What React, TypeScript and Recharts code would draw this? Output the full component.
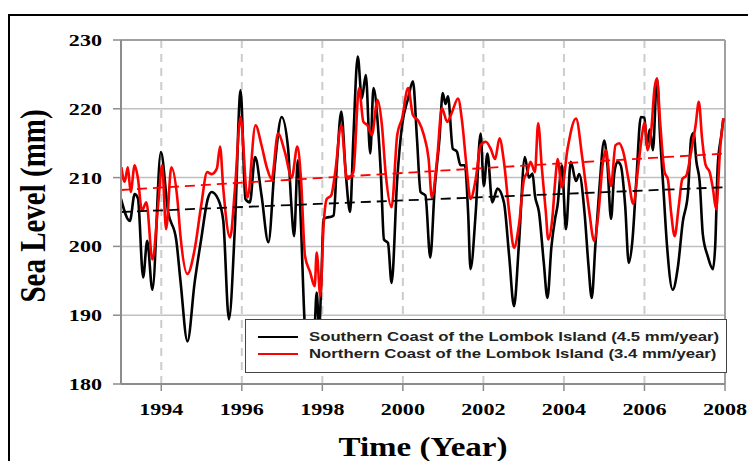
import { LineChart, Line, XAxis, YAxis, CartesianGrid, ReferenceLine, Legend, Label } from 'recharts'

// monthly-ish sea level readings (mm), Lombok Island
const southYears = [
	1993.0, 1993.22, 1993.34, 1993.42, 1993.55, 1993.65, 1993.78, 1993.99, 1994.17, 1994.37,
	1994.48, 1994.65, 1994.83, 1994.99, 1995.16, 1995.25, 1995.41, 1995.54, 1995.68, 1995.83,
	1995.97, 1996.09, 1996.2, 1996.33, 1996.49, 1996.66, 1996.82, 1996.99, 1997.15, 1997.22,
	1997.3, 1997.39, 1997.47, 1997.56, 1997.63, 1997.72, 1997.8, 1997.86, 1997.92, 1997.98,
	1998.03, 1998.11, 1998.22, 1998.28, 1998.36, 1998.47, 1998.58, 1998.69, 1998.77, 1998.88,
	1998.98, 1999.08, 1999.19, 1999.27, 1999.38, 1999.46, 1999.53, 1999.63, 1999.72, 1999.86,
	1999.98, 2000.13, 2000.25, 2000.35, 2000.44, 2000.56, 2000.68, 2000.79, 2000.91, 2000.99,
	2001.06, 2001.12, 2001.24, 2001.34, 2001.43, 2001.54, 2001.62, 2001.68, 2001.81, 2001.93,
	2002.01, 2002.1, 2002.22, 2002.35, 2002.51, 2002.64, 2002.76, 2002.88, 2003.03, 2003.13,
	2003.22, 2003.28, 2003.38, 2003.5, 2003.59, 2003.69, 2003.78, 2003.84, 2003.95, 2004.05,
	2004.17, 2004.3, 2004.38, 2004.51, 2004.61, 2004.69, 2004.78, 2004.88, 2005.0, 2005.08,
	2005.17, 2005.25, 2005.33, 2005.41, 2005.52, 2005.61, 2005.7, 2005.8, 2005.91, 2006.0,
	2006.06, 2006.13, 2006.21, 2006.31, 2006.39, 2006.47, 2006.56, 2006.7, 2006.83, 2006.95,
	2007.08, 2007.16, 2007.22, 2007.29, 2007.37, 2007.45, 2007.57, 2007.7, 2007.76, 2007.82,
	2007.91, 2007.96,
]
const southLevels = [
	206.9, 203.7, 207.6, 207.0, 195.5, 200.8, 193.7, 213.7, 205.0, 201.0,
	194.8, 186.2, 194.8, 201.0, 207.0, 207.9, 206.9, 203.7, 189.4, 203.0,
	222.7, 206.9, 206.4, 213.0, 207.4, 200.6, 211.8, 218.8, 214.2, 207.0,
	201.5, 212.5, 203.0, 189.0, 185.0, 184.0, 187.0, 193.3, 188.0, 196.0,
	204.0, 204.2, 204.3, 204.5, 211.8, 219.6, 210.8, 205.0, 215.7, 227.6,
	221.5, 224.9, 213.5, 223.0, 217.6, 209.8, 201.0, 200.5, 194.7, 209.8,
	217.6, 221.5, 224.0, 215.7, 207.9, 207.4, 198.4, 208.4, 215.7, 222.3,
	220.7, 221.8, 214.2, 213.8, 211.8, 211.8, 205.0, 196.7, 205.0, 216.4,
	208.8, 213.5, 206.4, 208.4, 206.4, 198.6, 191.3, 200.1, 213.0, 210.0,
	210.6, 207.4, 205.0, 197.6, 192.5, 200.0, 204.0, 205.9, 211.8, 202.5,
	212.3, 209.5, 210.5, 205.0, 197.2, 192.5, 200.1, 208.4, 215.4, 211.8,
	204.0, 210.6, 212.3, 211.8, 206.0, 197.6, 200.8, 209.8, 218.8, 218.7,
	214.7, 217.0, 214.0, 224.4, 215.7, 208.4, 200.1, 193.7, 197.0, 203.5,
	207.7, 215.7, 216.5, 212.3, 209.5, 201.7, 198.6, 196.7, 200.5, 211.8,
	216.2, 218.6,
]

const northYears = [
	1993.01, 1993.09, 1993.17, 1993.24, 1993.34, 1993.42, 1993.52, 1993.63, 1993.78, 1993.92,
	1994.02, 1994.12, 1994.25, 1994.4, 1994.48, 1994.65, 1994.83, 1994.99, 1995.14, 1995.25,
	1995.38, 1995.46, 1995.54, 1995.71, 1995.83, 1995.97, 1996.14, 1996.34, 1996.49, 1996.62,
	1996.74, 1996.9, 1997.07, 1997.24, 1997.38, 1997.47, 1997.57, 1997.7, 1997.81, 1997.86,
	1997.95, 1998.03, 1998.11, 1998.22, 1998.32, 1998.47, 1998.61, 1998.77, 1998.91, 1999.02,
	1999.12, 1999.23, 1999.37, 1999.48, 1999.57, 1999.72, 1999.86, 1999.98, 2000.13, 2000.25,
	2000.39, 2000.52, 2000.64, 2000.72, 2000.85, 2000.97, 2001.1, 2001.22, 2001.37, 2001.47,
	2001.57, 2001.68, 2001.81, 2001.93, 2002.06, 2002.18, 2002.29, 2002.4, 2002.51, 2002.64,
	2002.76, 2002.88, 2003.01, 2003.09, 2003.17, 2003.28, 2003.36, 2003.45, 2003.55, 2003.61,
	2003.71, 2003.79, 2003.84, 2003.95, 2004.09, 2004.3, 2004.46, 2004.63, 2004.75, 2004.86,
	2004.96, 2005.04, 2005.17, 2005.28, 2005.37, 2005.47, 2005.61, 2005.72, 2005.85, 2005.94,
	2006.0, 2006.08, 2006.17, 2006.25, 2006.31, 2006.39, 2006.5, 2006.58, 2006.66, 2006.75,
	2006.85, 2006.94, 2007.04, 2007.16, 2007.27, 2007.35, 2007.43, 2007.52, 2007.62, 2007.7,
	2007.78, 2007.88, 2007.96,
]
const northLevels = [
	211.5, 209.4, 211.5, 207.9, 211.8, 209.9, 205.2, 206.4, 198.1, 205.9,
	211.8, 202.5, 211.5, 206.9, 201.3, 196.0, 199.6, 205.9, 210.8, 210.5,
	211.3, 214.5, 208.4, 201.3, 208.4, 218.8, 207.1, 217.6, 214.7, 211.5,
	209.8, 216.4, 213.7, 210.0, 214.5, 209.8, 198.6, 196.2, 194.2, 199.1,
	192.8, 203.0, 206.9, 207.4, 210.8, 217.6, 209.8, 210.8, 223.0, 218.1,
	217.6, 216.2, 221.3, 217.6, 210.8, 205.7, 216.2, 218.6, 223.0, 219.1,
	218.2, 216.2, 212.7, 207.1, 212.7, 220.1, 218.1, 219.5, 221.5, 218.2,
	212.3, 206.9, 209.8, 214.7, 215.2, 214.2, 212.7, 215.7, 212.3, 205.0,
	199.8, 203.0, 209.8, 210.8, 212.3, 210.8, 217.9, 211.5, 205.0, 201.0,
	204.0, 210.0, 212.7, 208.6, 214.2, 218.6, 212.7, 205.0, 200.8, 205.0,
	211.8, 214.0, 208.8, 214.7, 215.0, 213.8, 209.5, 206.2, 211.8, 216.2,
	218.0, 214.0, 217.0, 223.0, 224.4, 218.0, 210.8, 209.8, 205.0, 201.5,
	205.8, 209.8, 210.3, 213.8, 217.6, 221.0, 215.7, 211.8, 210.8, 208.4,
	205.4, 214.2, 218.6,
]

// linear trends
const trendYears = [1993, 2008]
const southTrend = [205.0, 208.6]
const northTrend = [208.2, 213.5]

const yearTicks = [1994, 1996, 1998, 2000, 2002, 2004, 2006, 2008]
const levelTicks = [180, 190, 200, 210, 220, 230]

const seriesNames = [
	'Southern Coast of the Lombok Island (4.5 mm/year)',
	'Northern Coast of the Lombok Island (3.4 mm/year)',
]
const seriesColors = ['#000000', '#ff0000']

const southData = southYears.map((year, i) => ({ year, level: southLevels[i] }))
const northData = northYears.map((year, i) => ({ year, level: northLevels[i] }))
const southTrendData = trendYears.map((year, i) => ({ year, level: southTrend[i] }))
const northTrendData = trendYears.map((year, i) => ({ year, level: northTrend[i] }))

const serif = "'Liberation Serif', 'Times New Roman', serif"

const YearTick = ({ x, y, payload }: any) => (
	<g transform={`translate(${x},${y})`}>
		<text transform="scale(1.3,1)" textAnchor="middle" dy={24} fontFamily={serif} fontWeight="bold" fontSize={17} fill="#000">
			{payload.value}
		</text>
	</g>
)

const LevelTick = ({ x, y, payload }: any) => (
	<g transform={`translate(${x},${y})`}>
		<text transform="scale(1.3,1)" textAnchor="end" dy={6} fontFamily={serif} fontWeight="bold" fontSize={17} fill="#000">
			{payload.value}
		</text>
	</g>
)

const renderLegend = () => (
	<div
		style={{
			width: 482,
			height: 54,
			boxSizing: 'border-box',
			border: '1px solid #444',
			background: '#fff',
			padding: '8px 0 0 12px',
		}}
	>
		{seriesNames.map((name, i) => (
			<div key={name} style={{ display: 'flex', alignItems: 'center', height: 17 }}>
				<div style={{ width: 40, height: 0, borderTop: `2.5px solid ${seriesColors[i]}`, marginRight: 11, flexShrink: 0 }} />
				<span
					style={{
						fontFamily: "'Liberation Sans', Arial, sans-serif",
						fontWeight: 'bold',
						fontSize: 13.5,
						color: '#222',
						whiteSpace: 'nowrap',
						display: 'inline-block',
						transform: 'scaleX(1.24)',
						transformOrigin: 'left center',
					}}
				>
					{name}
				</span>
			</div>
		))}
	</div>
)

const App = () => {
	return (
		<div style={{ position: 'absolute', left: 0, top: 0, width: 748, height: 461, background: '#fff', overflow: 'hidden' }}>
			<div
				style={{
					position: 'absolute',
					left: 8,
					top: 14,
					width: 760,
					height: 470,
					borderTop: '2px solid #000',
					borderLeft: '2px solid #000',
				}}
			/>
			<div style={{ position: 'absolute', left: 0, top: 0 }}>
				<LineChart width={748} height={461} margin={{ top: 40, right: 23, bottom: 37, left: 21 }}>
					<CartesianGrid vertical={false} stroke="#c0c0c0" strokeWidth={1.5} />
					<CartesianGrid horizontal={false} stroke="#cccccc" strokeWidth={2} strokeDasharray="8 6" />
					<XAxis
						type="number"
						dataKey="year"
						domain={[1993, 2008]}
						ticks={yearTicks}
						allowDataOverflow
						height={40}
						tickSize={7}
						tickMargin={0}
						axisLine={{ stroke: '#8c8c8c', strokeWidth: 2 }}
						tickLine={{ stroke: '#8c8c8c', strokeWidth: 1.5 }}
						tick={<YearTick />}
					>
						<Label
							content={() => (
								<text
									transform="translate(423,456) scale(1.18,1)"
									textAnchor="middle"
									fontFamily={serif}
									fontWeight="bold"
									fontSize={28}
									fill="#000"
								>
									Time (Year)
								</text>
							)}
						/>
					</XAxis>
					<YAxis
						type="number"
						domain={[180, 230]}
						ticks={levelTicks}
						allowDataOverflow
						width={100}
						tickSize={8}
						tickMargin={11}
						axisLine={{ stroke: '#8c8c8c', strokeWidth: 2 }}
						tickLine={{ stroke: '#8c8c8c', strokeWidth: 1.5 }}
						tick={<LevelTick />}
					>
						<Label
							content={() => (
								<text
									transform="translate(45,206) rotate(-90) scale(1,1.2)"
									textAnchor="middle"
									fontFamily={serif}
									fontWeight="bold"
									fontSize={29}
									fill="#000"
								>
									Sea Level (mm)
								</text>
							)}
						/>
					</YAxis>
					<ReferenceLine y={230} stroke="#a0a0a0" strokeWidth={2} />
					<ReferenceLine x={2008} stroke="#a0a0a0" strokeWidth={2} />
					<Line
						data={southData}
						dataKey="level"
						type="monotone"
						stroke={seriesColors[0]}
						strokeWidth={2.6}
						dot={false}
						activeDot={false}
						isAnimationActive={false}
					/>
					<Line
						data={northData}
						dataKey="level"
						type="monotone"
						stroke={seriesColors[1]}
						strokeWidth={2.6}
						dot={false}
						activeDot={false}
						isAnimationActive={false}
					/>
					<Line
						data={southTrendData}
						dataKey="level"
						type="linear"
						stroke="#000"
						strokeWidth={1.8}
						strokeDasharray="10 6"
						dot={false}
						activeDot={false}
						isAnimationActive={false}
					/>
					<Line
						data={northTrendData}
						dataKey="level"
						type="linear"
						stroke="#ff0000"
						strokeWidth={1.8}
						strokeDasharray="10 6"
						dot={false}
						activeDot={false}
						isAnimationActive={false}
					/>
					<Legend
						layout="vertical"
						verticalAlign="middle"
						align="center"
						content={renderLegend}
						wrapperStyle={{ left: 245, top: 319, width: 482, height: 54 }}
					/>
				</LineChart>
			</div>
		</div>
	)
}

export default App
